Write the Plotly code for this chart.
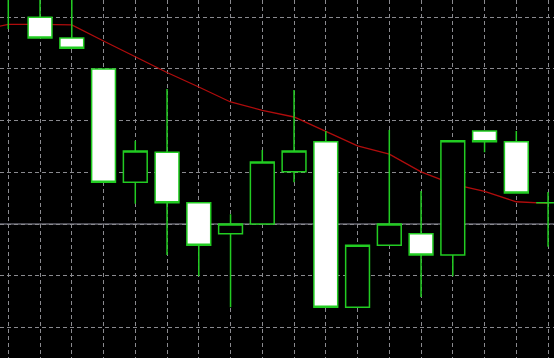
import plotly.graph_objects as go

# ---- data ----
bars = list(range(18))
open_ = [1.30511, 1.30400, 1.30360, 1.30300, 1.30081, 1.30139, 1.30041, 1.29981, 1.30000,
         1.30101, 1.30159, 1.29839, 1.29959, 1.29981, 1.29940, 1.30180, 1.30159, 1.30041]
high_ = [1.30530, 1.30462, 1.30453, 1.30300, 1.30161, 1.30261, 1.30041, 1.30019, 1.30143,
         1.30259, 1.30180, 1.29959, 1.30182, 1.30064, 1.30161, 1.30180, 1.30180, 1.30062]
low_ = [1.30377, 1.30360, 1.30340, 1.30081, 1.30039, 1.29940, 1.29899, 1.29839, 1.30000,
        1.30081, 1.29839, 1.29839, 1.29959, 1.29859, 1.29899, 1.30139, 1.30060, 1.29956]
close_ = [1.30443, 1.30360, 1.30340, 1.30081, 1.30141, 1.30041, 1.29959, 1.30000, 1.30120,
          1.30141, 1.29839, 1.29959, 1.30000, 1.29940, 1.30161, 1.30159, 1.30060, 1.30041]

ma_bars = list(range(-1, 18))
ma_values = [1.30373, 1.30386, 1.30386, 1.30385, 1.30354, 1.30324, 1.30293, 1.30265, 1.30236,
             1.30220, 1.30207, 1.30179, 1.30151, 1.30135, 1.30101, 1.30077, 1.30063, 1.30043, 1.30040]

level_price = 1.30000

# ---- style ----
GREEN = "#22cc22"
GRID = "#8a8a8f"
x_range = [-0.261, 17.187]
y_range = [1.297408, 1.304333]

fig = go.Figure()

fig.add_trace(go.Scatter(
    x=ma_bars, y=ma_values, mode="lines",
    line=dict(color="#b00c0c", width=1.3),
    xaxis="x", yaxis="y", showlegend=False, hoverinfo="skip",
))

fig.add_trace(go.Candlestick(
    x=bars, open=open_, high=high_, low=low_, close=close_,
    increasing=dict(line=dict(color=GREEN, width=1.5), fillcolor="black"),
    decreasing=dict(line=dict(color=GREEN, width=1.5), fillcolor="white"),
    whiskerwidth=0,
    xaxis="x", yaxis="y2", showlegend=False,
))

fig.add_hline(y=level_price, line=dict(color="#9a9aaa", width=1.2), layer="below")

fig.update_layout(
    width=554, height=358,
    margin=dict(l=0, r=0, t=0, b=0),
    paper_bgcolor="black", plot_bgcolor="black",
    boxgap=0.25, boxgroupgap=0,
    xaxis=dict(range=x_range, type="linear", tick0=0, dtick=1,
               showgrid=True, gridcolor=GRID, griddash="4px,3px", gridwidth=1,
               showticklabels=False, zeroline=False, showline=False, ticks="",
               rangeslider=dict(visible=False)),
    yaxis=dict(range=y_range, tick0=1.3, dtick=0.001,
               showgrid=True, gridcolor=GRID, griddash="4px,3px", gridwidth=1,
               showticklabels=False, zeroline=False, showline=False, ticks=""),
    yaxis2=dict(range=y_range, overlaying="y", visible=False, showgrid=False),
    showlegend=False,
)

fig.write_html("out.html")
